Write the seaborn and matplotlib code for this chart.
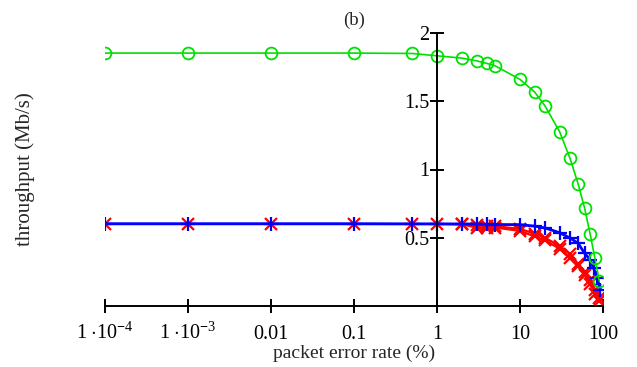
import numpy as np
import pandas as pd
import matplotlib
matplotlib.use("Agg")
import matplotlib.pyplot as plt
import seaborn as sns

# ---- data ----
green_x = [1e-4, 1e-3, 0.01, 0.1, 0.5, 1, 2, 3, 4, 5, 10, 15, 20, 30, 40, 50, 60, 70, 80, 90]
green_y = [1.853, 1.853, 1.853, 1.853, 1.85, 1.833, 1.816, 1.796, 1.777, 1.76, 1.66, 1.568,
           1.466, 1.277, 1.083, 0.897, 0.718, 0.527, 0.348, 0.184]

blue_x = [1e-4, 1e-3, 0.01, 0.1, 0.5, 1, 2, 3, 4, 5, 10, 15, 20, 30, 40, 50, 60, 70, 77, 85, 93]
blue_y = [0.603, 0.603, 0.603, 0.603, 0.602, 0.602, 0.601, 0.6, 0.598, 0.597, 0.596, 0.585,
          0.572, 0.537, 0.498, 0.46, 0.387, 0.338, 0.277, 0.204, 0.118]

red1_x = [1e-4, 1e-3, 0.01, 0.1, 0.5, 1, 2, 3, 4, 5, 10, 15, 20, 30, 40, 50, 60, 70, 80, 90]
red1_y = [0.6, 0.6, 0.6, 0.6, 0.6, 0.6, 0.598, 0.59, 0.585, 0.585, 0.565, 0.53, 0.5, 0.44,
          0.38, 0.31, 0.25, 0.19, 0.12, 0.06]
red2_x = [2, 3, 4, 5, 10, 15, 20, 30, 40, 50, 60, 70, 80, 90]
red2_y = [0.598, 0.575, 0.57, 0.575, 0.55, 0.51, 0.48, 0.42, 0.35, 0.29, 0.23, 0.16, 0.09, 0.035]

xticks = [1e-4, 1e-3, 0.01, 0.1, 1, 10, 100]
xticklabels = [r"$1\ {\cdot}10^{\mathbf{-}4}$", r"$1\ {\cdot}10^{\mathbf{-}3}$", "0.01", "0.1", "1", "10", "100"]
yticks = [0.5, 1, 1.5, 2]
yticklabels = ["0.5", "1", "1.5", "2"]

title = "(b)"
xlabel = "packet error rate (%)"
ylabel = "throughput (Mb/s)"

# ---- style ----
sns.set_style("white")
plt.rcParams["font.family"] = ["Liberation Serif", "DejaVu Serif"]
plt.rcParams["mathtext.fontset"] = "custom"
plt.rcParams["mathtext.rm"] = "Liberation Serif"
plt.rcParams["mathtext.it"] = "Liberation Serif:italic"
plt.rcParams["mathtext.bf"] = "Liberation Serif:bold"

fig = plt.figure(figsize=(6.37, 3.67), dpi=100)
ax = fig.add_axes([105 / 637, 1 - 306 / 367, (603 - 105) / 637, (306 - 33) / 367])

RED = "#ff0000"
BLUE = "#0000ff"
GREEN = "#00e000"

def draw(xs, ys, color, marker, ms, lw, mew, mfc):
    df = pd.DataFrame({"x": xs, "y": ys})
    sns.lineplot(data=df, x="x", y="y", ax=ax, sort=False, estimator=None,
                 color=color, lw=lw, marker=marker, markersize=ms,
                 markeredgewidth=mew, markerfacecolor=mfc, markeredgecolor=color)

draw(red1_x, red1_y, RED, "x", 9, 1.6, 1.6, RED)
draw(red2_x, red2_y, RED, "x", 9, 1.6, 1.6, RED)
draw(blue_x, blue_y, BLUE, "+", 10, 2.0, 1.6, BLUE)
draw(green_x, green_y, GREEN, "o", 8.5, 1.2, 1.3, "none")

ax.set_xscale("log")
ax.set_xlim(1e-4, 100)
ax.set_ylim(0, 2)

ax.set_xticks(xticks)
ax.set_xticklabels(xticklabels)
ax.xaxis.set_minor_locator(matplotlib.ticker.NullLocator())
ax.set_yticks(yticks)
ax.set_yticklabels(yticklabels)

for s in ["top", "right"]:
    ax.spines[s].set_visible(False)
ax.spines["left"].set_position(("data", 1))
ax.spines["left"].set_linewidth(1.4)
ax.spines["bottom"].set_linewidth(1.4)
ax.spines["left"].set_color("black")
ax.spines["bottom"].set_color("black")

ax.tick_params(axis="x", which="major", direction="inout", length=9.5, width=1.4,
               labelsize=14.5, pad=19, colors="black", bottom=True)
ax.tick_params(axis="y", which="major", direction="inout", length=9.5, width=1.4,
               labelsize=14.5, pad=0.5, colors="black", left=True)
for t in ax.get_xticklabels():
    t.set_verticalalignment("baseline")

ax.set_title(title, fontsize=13.5, pad=6)
ax.set_xlabel(xlabel, fontsize=14, labelpad=0.5)
ax.set_ylabel(ylabel, fontsize=15)
ax.yaxis.set_label_coords(-0.14, 0.5)
ax.grid(False)

fig.savefig("out.png", dpi=100)
